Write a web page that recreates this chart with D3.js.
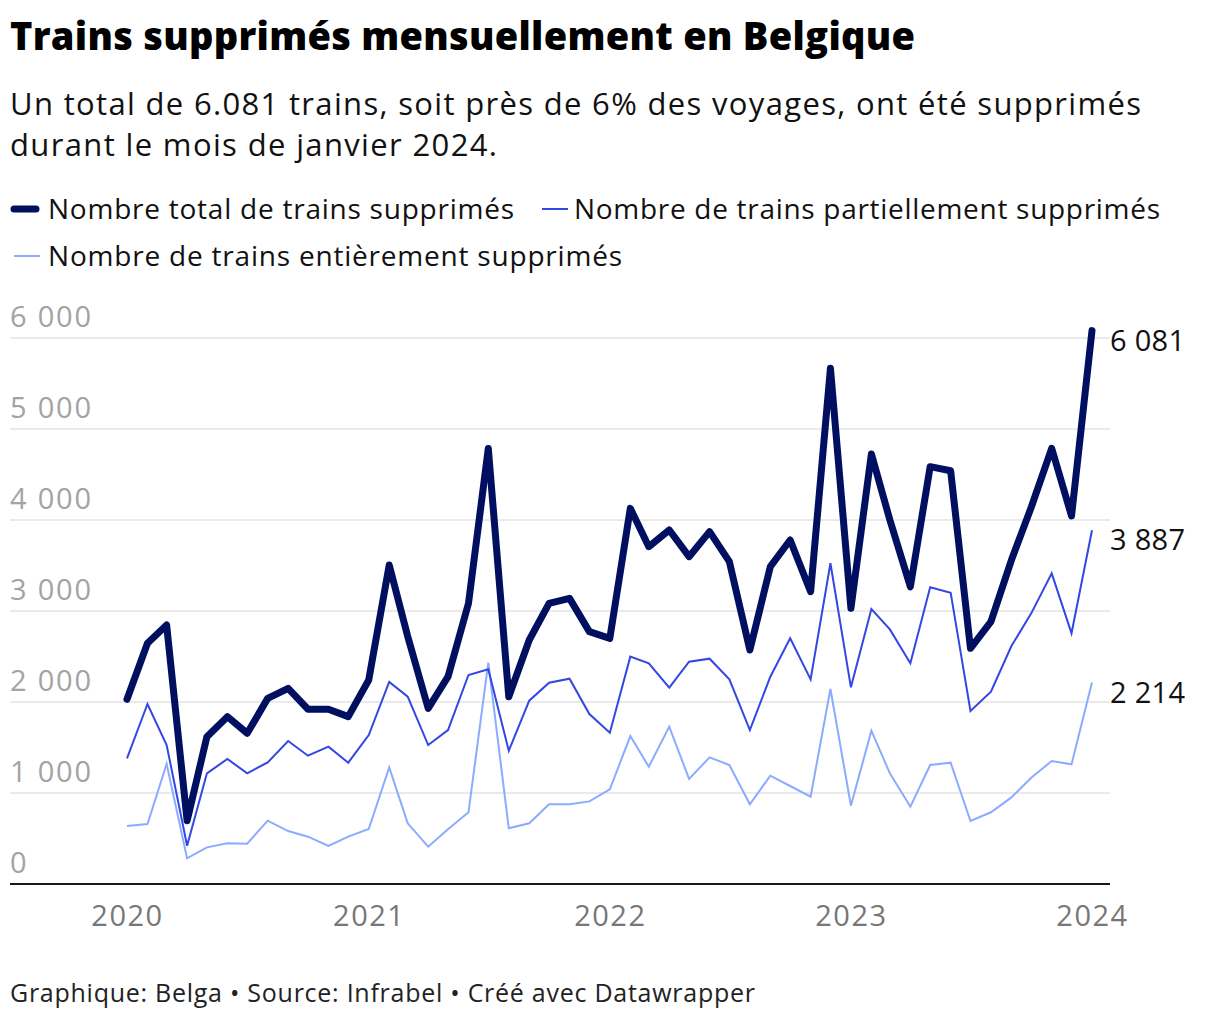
<!DOCTYPE html>
<html>
<head>
<meta charset="utf-8">
<script src="https://cdn.jsdelivr.net/npm/d3@7"></script>
<style>
  html, body { margin: 0; padding: 0; background: #fff; }
  svg { display: block; font-family: "Open Sans", "Noto Sans", sans-serif; }
</style>
</head>
<body>
<svg id="chart" width="1220" height="1020"></svg>
<script>
// ---- data ----
const months = [
  "2020-01","2020-02","2020-03","2020-04","2020-05","2020-06","2020-07","2020-08","2020-09","2020-10","2020-11","2020-12",
  "2021-01","2021-02","2021-03","2021-04","2021-05","2021-06","2021-07","2021-08","2021-09","2021-10","2021-11","2021-12",
  "2022-01","2022-02","2022-03","2022-04","2022-05","2022-06","2022-07","2022-08","2022-09","2022-10","2022-11","2022-12",
  "2023-01","2023-02","2023-03","2023-04","2023-05","2023-06","2023-07","2023-08","2023-09","2023-10","2023-11","2023-12",
  "2024-01"
];
const totalValues = [
  2030,2645,2846,696,1619,1839,1656,2040,2150,1920,1920,1839,
  2242,3505,2720,1930,2278,3084,4785,2058,2681,3084,3139,2773,
  2700,4128,3707,3890,3597,3872,3542,2571,3487,3780,3212,5667,
  3030,4725,4000,3266,4586,4541,2590,2883,3560,4140,4787,4044,
  6081
];
const partialValues = [
  1381,1978,1527,421,1216,1374,1216,1337,1571,1410,1509,1333,
  1637,2220,2058,1527,1692,2297,2359,1465,2015,2212,2256,1868,
  1663,2498,2425,2158,2443,2476,2249,1692,2278,2700,2249,3525,
  2161,3022,2798,2425,3260,3201,1901,2114,2615,2974,3413,2755,
  3887
];
const entireValues = [
  637,659,1319,282,403,447,443,696,582,520,418,520,
  604,1282,667,410,601,788,2432,612,667,876,876,908,
  1040,1626,1289,1729,1154,1392,1308,876,1190,1077,960,2143,
  861,1685,1216,850,1308,1333,692,788,952,1168,1352,1315,
  2214
];
const yTicks = [0, 1000, 2000, 3000, 4000, 5000, 6000];
const xTickYears = [2020, 2021, 2022, 2023, 2024];
const seriesNames = [
  "Nombre total de trains supprimés",
  "Nombre de trains partiellement supprimés",
  "Nombre de trains entièrement supprimés"
];

// ---- chart ----
const FONT = "'Open Sans', 'Noto Sans', sans-serif";
const svg = d3.select("#chart");
const parse = d3.timeParse("%Y-%m");
const dates = months.map(parse);

const x = d3.scaleTime()
  .domain([new Date(2020, 0, 1), new Date(2024, 0, 1)])
  .range([127, 1092]);
const y = d3.scaleLinear().domain([0, 6000]).range([884, 338]);

const fmt = v => d3.format(",")(v).replace(/,/g, " ");

// title & subtitle
svg.append("text").attr("x", 10).attr("y", 50)
  .attr("font-size", 38).attr("font-weight", 800).attr("fill", "#000")
  .attr("textLength", 905).attr("lengthAdjust", "spacing")
  .text("Trains supprimés mensuellement en Belgique");
svg.append("text").attr("x", 10).attr("y", 115)
  .attr("font-size", 31).attr("fill", "#111")
  .attr("textLength", 1131).attr("lengthAdjust", "spacing")
  .text("Un total de 6.081 trains, soit près de 6% des voyages, ont été supprimés");
svg.append("text").attr("x", 10).attr("y", 156)
  .attr("font-size", 31).attr("fill", "#111")
  .attr("textLength", 487).attr("lengthAdjust", "spacing")
  .text("durant le mois de janvier 2024.");

// legend
const series = [
  { name: seriesNames[0], values: totalValues, color: "#000f5f", width: 7 },
  { name: seriesNames[1], values: partialValues, color: "#3247e3", width: 2 },
  { name: seriesNames[2], values: entireValues, color: "#8aabff", width: 2 }
];
const legendPos = [
  { lx: 14, tx: 48, ty: 219, w: 466 },
  { lx: 542, tx: 574, ty: 219, w: 586 },
  { lx: 14, tx: 48, ty: 266, w: 574 }
];
series.forEach((s, i) => {
  const p = legendPos[i];
  svg.append("line")
    .attr("x1", p.lx).attr("x2", p.lx + (i === 0 ? 22 : 26))
    .attr("y1", p.ty - 10).attr("y2", p.ty - 10)
    .attr("stroke", s.color).attr("stroke-width", i === 0 ? 7 : 2)
    .attr("stroke-linecap", i === 0 ? "round" : "butt");
  svg.append("text").attr("x", p.tx).attr("y", p.ty)
    .attr("font-size", 28).attr("fill", "#111")
    .attr("textLength", p.w).attr("lengthAdjust", "spacing")
    .text(s.name);
});

// gridlines & y labels
const gridG = svg.append("g");
yTicks.forEach(t => {
  if (t > 0) {
    gridG.append("line").attr("x1", 10).attr("x2", 1110)
      .attr("y1", y(t)).attr("y2", y(t))
      .attr("stroke", "#e3e3e3").attr("stroke-width", 1.5);
  }
  gridG.append("text").attr("x", 10).attr("y", y(t) - 11)
    .attr("font-size", 29).attr("fill", "#a3a3a3")
    .attr("letter-spacing", 1.8).text(fmt(t));
});
// baseline
svg.append("line").attr("x1", 10).attr("x2", 1110)
  .attr("y1", y(0)).attr("y2", y(0))
  .attr("stroke", "#1a1a1a").attr("stroke-width", 2);

// x axis labels
const xAxis = d3.axisBottom(x)
  .tickValues(xTickYears.map(yr => new Date(yr, 0, 1)))
  .tickFormat(d3.timeFormat("%Y"))
  .tickSize(0).tickPadding(0);
const xg = svg.append("g").attr("transform", `translate(0, ${y(0)})`).call(xAxis);
xg.select(".domain").remove();
xg.selectAll("text")
  .attr("dy", null).attr("y", 42)
  .attr("font-size", 29).attr("font-family", FONT)
  .attr("letter-spacing", 1.5)
  .attr("fill", "#777");

// lines (draw lighter first)
const lineGen = vals => d3.line()
  .x((d, i) => x(dates[i]))
  .y(d => y(d))
  .curve(d3.curveLinear)(vals);

[2, 1, 0].forEach(i => {
  const s = series[i];
  svg.append("path")
    .attr("d", lineGen(s.values))
    .attr("fill", "none")
    .attr("stroke", s.color)
    .attr("stroke-width", s.width)
    .attr("stroke-linejoin", i === 0 ? "round" : "miter")
    .attr("stroke-linecap", i === 0 ? "round" : "butt");
});

// end labels
series.forEach(s => {
  const last = s.values[s.values.length - 1];
  svg.append("text")
    .attr("x", 1110).attr("y", y(last) + 20)
    .attr("font-size", 29).attr("fill", "#111")
    .attr("letter-spacing", 0.3)
    .text(fmt(last));
});

// footer
svg.append("text").attr("x", 10).attr("y", 1002)
  .attr("font-size", 25).attr("fill", "#222")
  .attr("textLength", 745).attr("lengthAdjust", "spacing")
  .text("Graphique: Belga • Source: Infrabel • Créé avec Datawrapper");
</script>
</body>
</html>
